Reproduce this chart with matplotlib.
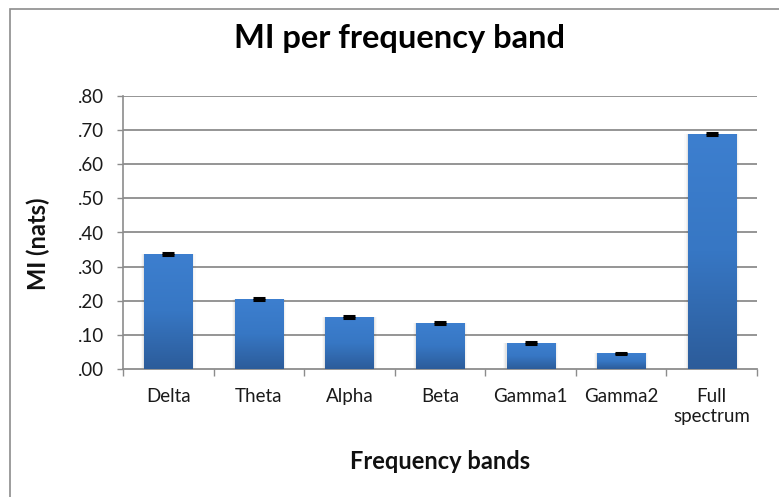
import numpy as np
import matplotlib
matplotlib.use("Agg")
import matplotlib.pyplot as plt
from matplotlib.colors import LinearSegmentedColormap
from matplotlib.patches import Rectangle

categories = ["Delta", "Theta", "Alpha", "Beta", "Gamma1", "Gamma2", "Full\nspectrum"]
mi_values = [0.337, 0.205, 0.152, 0.135, 0.076, 0.046, 0.689]
mi_errors = [0.002, 0.002, 0.002, 0.002, 0.002, 0.002, 0.002]
y_ticks = [0.0, 0.1, 0.2, 0.3, 0.4, 0.5, 0.6, 0.7, 0.8]
y_tick_labels = [".00", ".10", ".20", ".30", ".40", ".50", ".60", ".70", ".80"]

plt.rcParams['font.family'] = ['Lato', 'DejaVu Sans']

W, H = 779, 497
fig = plt.figure(figsize=(W / 100, H / 100), dpi=100)
ax = fig.add_axes([123 / W, 1 - 369 / H, (757 - 123) / W, (369 - 96) / H])

# chart-area border (right and bottom edges fall outside the image)
fig.patches.append(Rectangle((10 / W, -1.0), 2.0, 2.0 - 9 / H, transform=fig.transFigure,
                             fill=False, edgecolor='#8c8c8c', linewidth=1.2))

x = np.arange(len(categories))
width = 0.53
cmap = LinearSegmentedColormap.from_list("bar", ["#2c5c9a", "#3777c4", "#3d7fcf"])

ax.set_xlim(-0.5, len(categories) - 0.5)
ax.set_ylim(0, 0.8)

for yt in y_ticks[1:]:
    ax.axhline(yt, color='#8c8c8c', linewidth=1.3, zorder=1)

bars = ax.bar(x, mi_values, width=width, color='none', zorder=3)
grad = np.linspace(0, 1, 256).reshape(-1, 1)
for b in bars:
    x0, y0 = b.get_x(), b.get_y()
    w, h = b.get_width(), b.get_height()
    # soft shadow on the sides
    for k, a in enumerate([0.05, 0.035, 0.02]):
        d = 0.012 * (k + 1)
        ax.add_patch(Rectangle((x0 - d, y0), w + 2 * d, h, color='black',
                               alpha=a, linewidth=0, zorder=2))
    im = ax.imshow(grad, extent=[x0, x0 + w, y0, y0 + h], origin='lower',
                   cmap=cmap, aspect='auto', zorder=3)
    im.set_clip_path(b)

ax.errorbar(x, mi_values, yerr=mi_errors, fmt='none', ecolor='black',
            elinewidth=1.0, capsize=4.5, capthick=2.2, zorder=4)

ax.set_yticks(y_ticks)
ax.set_yticklabels(y_tick_labels, fontsize=13.5, color='#1a1a1a')
ax.set_xticks(x)
ax.set_xticklabels(categories, fontsize=13.5, color='#1a1a1a', linespacing=1.15)
ax.tick_params(axis='x', length=0, pad=14)
ax.tick_params(axis='y', length=4.3, width=1, color='#8c8c8c', pad=9)
ax.set_xticks(np.arange(len(categories) + 1) - 0.5, minor=True)
ax.tick_params(axis='x', which='minor', length=5, width=1, color='#8c8c8c', direction='out')

for s in ['top', 'right']:
    ax.spines[s].set_visible(False)
ax.spines['left'].set_color('#8c8c8c')
ax.spines['bottom'].set_color('#8c8c8c')
ax.spines['left'].set_linewidth(1.2)
ax.spines['bottom'].set_linewidth(1.3)

fig.text(38 / W, 1 - 244 / H, "MI (nats)", fontsize=17, fontweight='bold',
         rotation=90, ha='center', va='center', color='#111111')
fig.text(440 / W, 1 - 469 / H, "Frequency bands", fontsize=17, fontweight='bold',
         ha='center', va='baseline', color='#111111')
fig.text(400 / W, 1 - 48 / H, "MI per frequency band", fontsize=23.5, fontweight='bold',
         ha='center', va='baseline', color='#000000')

fig.savefig("out.png", dpi=100)
